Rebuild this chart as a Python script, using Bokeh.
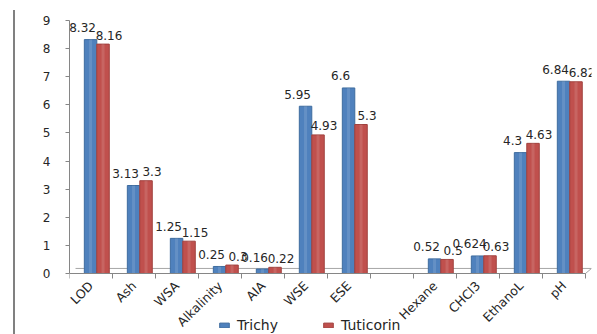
from math import pi

from bokeh.core.properties import value
from bokeh.embed import file_html
from bokeh.layouts import row
from bokeh.models import (ColumnDataSource, Div, FixedTicker, LabelSet, Legend,
                          LegendItem, Range1d)
from bokeh.plotting import figure
from bokeh.resources import INLINE

# Parameters per sample; the blank slot separates the solvent extracts
categories = ["LOD", "Ash", "WSA", "Alkalinity", "AIA", "WSE", "ESE", "",
              "Hexane", "CHCl3", "EthanoL", "pH"]
trichy = [8.32, 3.13, 1.25, 0.25, 0.16, 5.95, 6.6, None, 0.52, 0.624, 4.3, 6.84]
tuticorin = [8.16, 3.3, 1.15, 0.3, 0.22, 4.93, 5.3, None, 0.5, 0.63, 4.63, 6.82]
y_ticks = [0, 1, 2, 3, 4, 5, 6, 7, 8, 9]

BLUE = "#4F81BD"
RED = "#C0504D"
TEXT = "#262626"
AXIS = "#868686"
FONT = "DejaVu Sans"

# Layout in pixels: the value axis spans 253 px, with 61 px of room underneath
# for the category names and the legend (kept inside the frame).
PLOT_H = 253
UNDER_H = 61
Y_MAX = 9
Y_MIN = -Y_MAX * UNDER_H / PLOT_H

# depth of the pseudo-3D floor (in slot widths / value units)
DEPTH_X = 0.14
DEPTH_Y = 0.18


def series_source(values, shift):
    xs, tops, labels = [], [], []
    for i, v in enumerate(values):
        if v is None:
            continue
        xs.append(i + shift)
        tops.append(v)
        labels.append(f"{v:g}")
    return ColumnDataSource(dict(x=xs, top=tops, label=labels))


n = len(categories)
src_t = series_source(trichy, 0.49)
src_u = series_source(tuticorin, 0.78)

p = figure(width=582, height=334, output_backend="svg", toolbar_location=None,
           x_range=Range1d(0, n + DEPTH_X), y_range=Range1d(Y_MIN, Y_MAX),
           min_border_left=54, min_border_right=6, min_border_top=20,
           min_border_bottom=0)
p.outline_line_color = None
p.grid.visible = False
p.background_fill_color = "white"
p.border_fill_color = "white"

# floor of the chart: back edge and right-hand side
p.line(x=[DEPTH_X, n + DEPTH_X, n], y=[DEPTH_Y, DEPTH_Y, 0],
       line_color="#A6A6A6", line_width=1)

r_t = p.vbar(x="x", top="top", width=0.29, source=src_t,
             fill_color=BLUE, line_color="#3E6C9F", line_width=1)
r_u = p.vbar(x="x", top="top", width=0.29, source=src_u,
             fill_color=RED, line_color="#A0413E", line_width=1)

# soft highlight stripe for a rounded look
p.vbar(x="x", top="top", width=0.07, source=src_t, fill_color="white",
       fill_alpha=0.12, line_color=None)
p.vbar(x="x", top="top", width=0.07, source=src_u, fill_color="white",
       fill_alpha=0.12, line_color=None)

p.add_layout(LabelSet(x="x", y="top", text="label", source=src_t,
                      x_offset=-8, y_offset=12, text_align="center",
                      text_baseline="middle", text_font=value(FONT),
                      text_font_size="12px", text_color=TEXT))
p.add_layout(LabelSet(x="x", y="top", text="label", source=src_u,
                      x_offset=6, y_offset=9, text_align="center",
                      text_baseline="middle", text_font=value(FONT),
                      text_font_size="12px", text_color=TEXT))

# x axis pinned at zero: category names at slot centres, ticks between slots
xa = p.xaxis[0]
xa.fixed_location = 0
xa.bounds = (0, n)
xa.ticker = FixedTicker(ticks=[i + 0.5 for i in range(n)],
                        minor_ticks=list(range(n + 1)))
xa.major_label_overrides = {i + 0.5: c for i, c in enumerate(categories)}
xa.major_label_orientation = pi / 4
xa.major_tick_out = 0
xa.major_tick_in = 0
xa.minor_tick_out = 5
xa.minor_tick_in = 0
xa.minor_tick_line_color = AXIS
xa.axis_line_color = AXIS
xa.major_label_standoff = 5
xa.major_label_text_font = FONT
xa.major_label_text_font_size = "12.5px"
xa.major_label_text_color = TEXT

ya = p.yaxis[0]
ya.bounds = (0, Y_MAX)
ya.ticker = FixedTicker(ticks=y_ticks)
ya.minor_tick_line_color = None
ya.major_tick_out = 4
ya.major_tick_in = 0
ya.major_tick_line_color = AXIS
ya.axis_line_color = AXIS
ya.major_label_standoff = 15
ya.major_label_text_font = FONT
ya.major_label_text_font_size = "12px"
ya.major_label_text_color = TEXT

legend = Legend(items=[LegendItem(label="Trichy", renderers=[r_t]),
                       LegendItem(label="Tuticorin", renderers=[r_u])],
                orientation="horizontal", location=(149, 1),
                border_line_color=None, background_fill_alpha=0,
                glyph_width=12, glyph_height=6, label_standoff=7,
                label_height=12, spacing=44, padding=0, margin=0,
                label_text_font=FONT, label_text_font_size="14px",
                label_text_color=TEXT)
p.add_layout(legend)

edge = Div(width=2, height=324, margin=(10, 0, 0, 13),
           styles={"background-color": "#808080"})

layout = row(edge, p)
open("out.html", "w").write(file_html(layout, INLINE))
